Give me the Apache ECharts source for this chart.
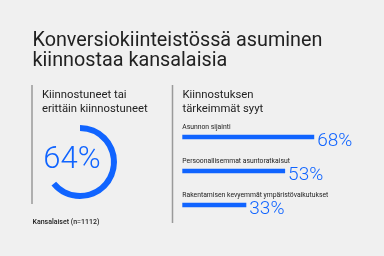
<!DOCTYPE html>
<html><head><meta charset="utf-8">
<script src="https://cdn.jsdelivr.net/npm/echarts@6/dist/echarts.min.js"></script>
<style>html,body{margin:0;padding:0;background:#f0f0f0}#c{width:384px;height:256px}</style>
</head><body><div id="c"></div>
<script>
const titleLines = ['Konversiokiinteistössä asuminen', 'kiinnostaa kansalaisia'];
const leftHeading = ['Kiinnostuneet tai', 'erittäin kiinnostuneet'];
const rightHeading = ['Kiinnostuksen', 'tärkeimmät syyt'];
const gaugeValue = 64;
const sourceNote = 'Kansalaiset (n=1112)';
const reasons = ['Asunnon sijainti', 'Persoonallisemmat asuntoratkaisut', 'Rakentamisen kevyemmät ympäristövaikutukset'];
const reasonValues = [68, 53, 33];

const BLUE = '#1064ff';
const DARK = '#222222';
const FONT = 'Roboto, sans-serif';

const chart = echarts.init(document.getElementById('c'), null, {renderer: 'canvas'});

function txt(text, x, y, size, weight, color) {
  return {type: 'text', x: x, y: y, style: {text: text, fontFamily: FONT, fontSize: size, fontWeight: weight || 'normal', fill: color || DARK, align: 'left', verticalAlign: 'middle'}};
}

chart.setOption({
  backgroundColor: '#f0f0f0',
  animation: false,
  graphic: [
    txt(titleLines[0], 32.5, 41, 19.8),
    txt(titleLines[1], 32.5, 61, 19.8),
    txt(leftHeading[0], 42, 95, 11.3),
    txt(leftHeading[1], 42, 109, 11.3),
    txt(rightHeading[0], 182.5, 95, 11.3),
    txt(rightHeading[1], 182.5, 109, 11.3),
    txt(sourceNote, 32.5, 222.5, 7, 500),
    {type: 'line', shape: {x1: 32, y1: 85, x2: 32, y2: 204}, style: {stroke: '#9a9a9a', lineWidth: 1.5}},
    {type: 'line', shape: {x1: 172.5, y1: 85, x2: 172.5, y2: 223}, style: {stroke: '#9a9a9a', lineWidth: 1.5}}
  ],
  grid: {left: 182.3, width: 194, top: 120, height: 102},
  xAxis: {type: 'value', min: 0, max: 100, show: false},
  yAxis: {type: 'category', data: reasons, inverse: true, show: false},
  series: [
    {
      type: 'gauge', center: [80, 162], radius: 37, startAngle: 90, endAngle: -270, min: 0, max: 100,
      progress: {show: true, width: 6, itemStyle: {color: BLUE}},
      axisLine: {lineStyle: {width: 6, color: [[1, 'rgba(0,0,0,0)']]}},
      pointer: {show: false}, axisTick: {show: false}, splitLine: {show: false}, axisLabel: {show: false},
      title: {show: false},
      detail: {formatter: '{value}%', offsetCenter: [-8, -1.5], fontSize: 31, fontWeight: 300, fontFamily: FONT, color: BLUE, lineHeight: 31},
      data: [{value: gaugeValue}]
    },
    {
      type: 'bar', barWidth: 4.5, data: reasonValues, itemStyle: {color: BLUE},
      label: {show: true, position: 'right', distance: 3, formatter: '{c}%', fontSize: 19, fontWeight: 300, fontFamily: FONT, color: BLUE, offset: [0, 4]}
    },
    {
      type: 'bar', barWidth: 4.5, barGap: '-100%', data: reasonValues, itemStyle: {color: 'rgba(0,0,0,0)'}, silent: true,
      label: {show: true, position: [0, -4], formatter: '{b}', fontSize: 6.8, fontFamily: FONT, color: DARK, align: 'left', verticalAlign: 'bottom'}
    }
  ]
});
</script></body></html>
